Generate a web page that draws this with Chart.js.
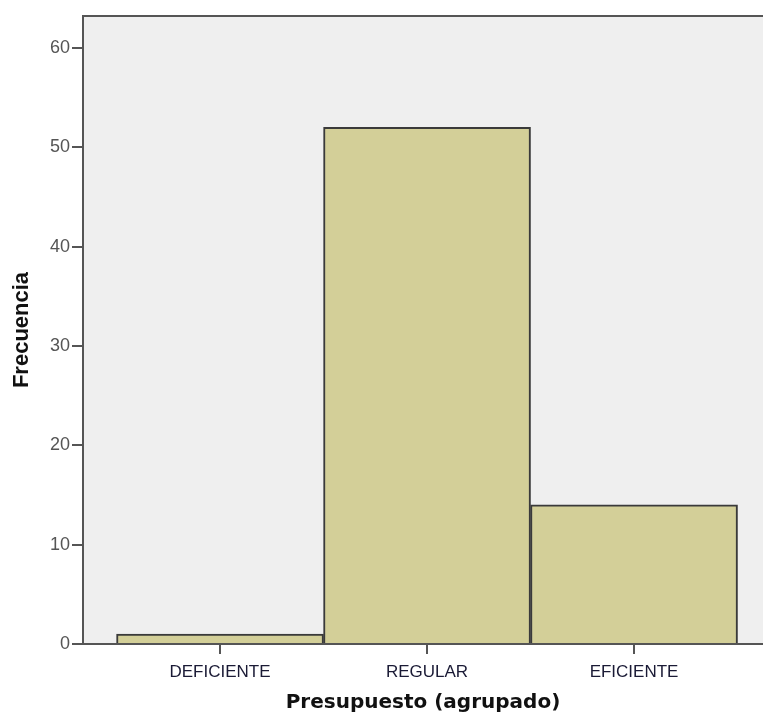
<!DOCTYPE html>
<html>
<head>
<meta charset="utf-8">
<script src="https://cdn.jsdelivr.net/npm/chart.js@4.4.1/dist/chart.umd.min.js"></script>
<style>
  html, body { margin: 0; padding: 0; background: #fff; }
  #wrap { width: 763px; height: 716px; }
</style>
</head>
<body>
<div id="wrap"><canvas id="myChart" width="763" height="716"></canvas></div>
<script>
// data
var categories = ['DEFICIENTE', 'REGULAR', 'EFICIENTE'];
var frecuencias = [1, 52, 14];
var yTicks = [0, 10, 20, 30, 40, 50, 60];

var axisColor = '#555';

// grey plot background + top frame line
var plotBg = {
  id: 'plotBg',
  beforeDraw: function (chart) {
    var a = chart.chartArea, c = chart.ctx;
    c.save();
    c.fillStyle = '#efefef';
    c.fillRect(a.left, a.top, a.right - a.left, a.bottom - a.top);
    c.strokeStyle = axisColor;
    c.lineWidth = 2;
    c.beginPath();
    c.moveTo(a.left, a.top);
    c.lineTo(a.right, a.top);
    c.stroke();
    c.restore();
  }
};

var ctx = document.getElementById('myChart');
var myChart = new Chart(ctx, {
  type: 'bar',
  data: {
    datasets: [{
      data: frecuencias.map(function (v, i) { return { x: i, y: v }; }),
      backgroundColor: '#d3cf98',
      borderColor: '#3a3a3a',
      borderWidth: 2,
      barPercentage: 1,
      categoryPercentage: 1
    }]
  },
  options: {
    responsive: false,
    animation: false,
    layout: { padding: { top: 16, right: 0, left: 0, bottom: 0 } },
    plugins: {
      legend: { display: false },
      tooltip: { enabled: false }
    },
    scales: {
      x: {
        type: 'linear',
        offset: false,
        min: -0.662,
        max: 2.623,
        afterBuildTicks: function (scale) {
          scale.ticks = categories.map(function (c, i) { return { value: i }; });
        },
        afterFit: function (scale) { scale.height = 72; },
        ticks: {
          padding: 8,
          color: '#1a1a35',
          font: { family: 'Liberation Sans, Arial', size: 17 },
          callback: function (v) { return categories[v]; }
        },
        grid: { offset: false, drawOnChartArea: false, tickLength: 10, color: axisColor, lineWidth: 2 },
        border: { display: true, color: axisColor, width: 2 },
        title: {
          display: true,
          text: 'Presupuesto (agrupado)',
          color: '#111',
          font: { family: 'DejaVu Sans', size: 20, weight: 'bold' },
          padding: { top: 0, bottom: 1 }
        }
      },
      y: {
        min: 0,
        max: 63.2,
        afterBuildTicks: function (scale) {
          scale.ticks = yTicks.map(function (v) { return { value: v }; });
        },
        afterFit: function (scale) { scale.width = 83; },
        ticks: {
          padding: 2,
          color: '#555',
          font: { family: 'Liberation Sans, Arial', size: 18 }
        },
        grid: { drawOnChartArea: false, tickLength: 11, color: axisColor, lineWidth: 2 },
        border: { display: true, color: axisColor, width: 2 },
        title: {
          display: true,
          text: 'Frecuencia',
          color: '#111',
          font: { family: 'Liberation Sans, Arial', size: 22, weight: 'bold' },
          padding: { top: 9, bottom: 0 }
        }
      }
    }
  },
  plugins: [plotBg]
});
</script>
</body>
</html>
